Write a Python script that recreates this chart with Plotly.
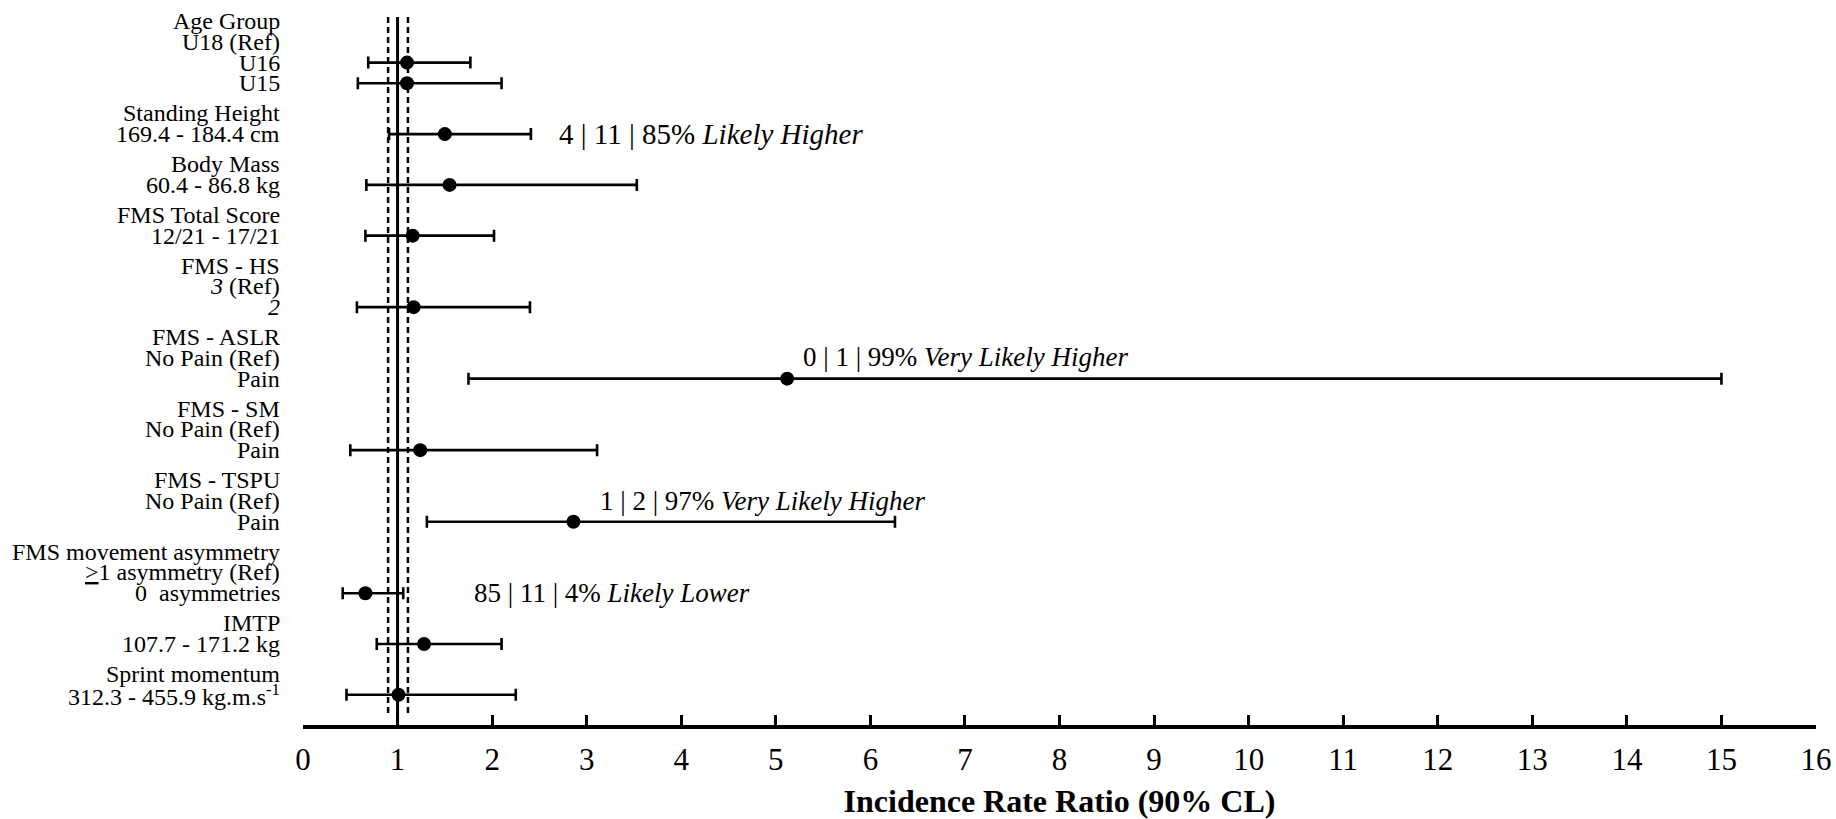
import plotly.graph_objects as go

# ---- data -------------------------------------------------------------
group_titles = [
    "Age Group", "Standing Height", "Body Mass", "FMS Total Score", "FMS - HS",
    "FMS - ASLR", "FMS - SM", "FMS - TSPU", "FMS movement asymmetry", "IMTP",
    "Sprint momentum",
]
group_levels = [
    ["U18 (Ref)", "U16", "U15"],
    ["169.4 - 184.4 cm"],
    ["60.4 - 86.8 kg"],
    ["12/21 - 17/21"],
    ["<i>3</i> (Ref)", "<i>2</i>"],
    ["No Pain (Ref)", "Pain"],
    ["No Pain (Ref)", "Pain"],
    ["No Pain (Ref)", "Pain"],
    ["<u>&gt;</u>1 asymmetry (Ref)", "0&nbsp; asymmetries"],
    ["107.7 - 171.2 kg"],
    ["312.3 - 455.9 kg.m.s<sup>-1</sup>"],
]
# incidence rate ratios (90% CL) for every non-reference level, top to bottom
irr = [1.10, 1.10, 1.50, 1.55, 1.16, 1.17, 5.12, 1.24, 2.86, 0.66, 1.28, 1.01]
cl_low = [0.69, 0.58, 0.91, 0.67, 0.66, 0.57, 1.75, 0.50, 1.31, 0.42, 0.78, 0.46]
cl_high = [1.77, 2.10, 2.41, 3.53, 2.02, 2.40, 15.0, 3.11, 6.26, 1.06, 2.10, 2.25]

# magnitude-based inference statements: index into irr, text
inference_row = [2, 6, 8, 9]
inference_text = [
    "4 | 11 | 85% <i>Likely Higher</i>",
    "0 | 1 | 99% <i>Very Likely Higher</i>",
    "1 | 2 | 97% <i>Very Likely Higher</i>",
    "85 | 11 | 4% <i>Likely Lower</i>",
]

# smallest worthwhile change thresholds around IRR = 1
swc_low, swc_high = 0.90, 1.11
x_ticks = list(range(0, 17))

# ---- layout of label lines ---------------------------------------------
LINE_STEP = 1.0
GROUP_GAP = 1.45
FONT = "Liberation Serif, Times New Roman, serif"

label_lines = []      # (y, text)
estimate_y = []
y = 0.0
for gi, (title, levels) in enumerate(zip(group_titles, group_levels)):
    if gi > 0:
        y += GROUP_GAP
    label_lines.append((y, title))
    for lv in levels:
        y += LINE_STEP
        label_lines.append((y, lv))
        if "(Ref)" not in lv:
            estimate_y.append(y)
last_y = y
y_bottom = last_y + 1.46
y_top = -1.02

# text placement for inference statements: (x start, vertical offset in lines, font size)
inference_place = [(2.69, 0.0, 29), (5.27, -1.05, 27), (3.12, -1.02, 27), (1.79, 0.0, 27)]

fig = go.Figure()

# reference lines: IRR = 1 and the SWC band
fig.add_shape(type="line", x0=1, x1=1, y0=-0.2, y1=y_bottom, xref="x", yref="y",
              line=dict(color="black", width=3), layer="below")
for xv in (swc_low, swc_high):
    fig.add_shape(type="line", x0=xv, x1=xv, y0=-0.2, y1=y_bottom - 0.4, xref="x", yref="y",
                  line=dict(color="black", width=2.5, dash="6px,4px"), layer="below")

fig.add_trace(go.Scatter(
    x=irr, y=estimate_y, mode="markers",
    marker=dict(color="black", size=14, symbol="circle"),
    error_x=dict(type="data", symmetric=False,
                 array=[h - m for h, m in zip(cl_high, irr)],
                 arrayminus=[m - l for m, l in zip(irr, cl_low)],
                 color="black", thickness=2.6, width=6),
    showlegend=False, hoverinfo="x+y",
))

annotations = []
for ly, txt in label_lines:
    annotations.append(dict(
        x=0, xref="paper", xanchor="right", xshift=-21,
        y=ly, yref="y", yanchor="middle",
        text=txt, showarrow=False, align="right",
        font=dict(family=FONT, size=24, color="black"),
    ))
for ri, txt, (xs, dy, fs) in zip(inference_row, inference_text, inference_place):
    annotations.append(dict(
        x=xs, xref="x", xanchor="left",
        y=estimate_y[ri] + dy, yref="y", yanchor="middle",
        text=txt, showarrow=False,
        font=dict(family=FONT, size=fs, color="black"),
    ))

fig.update_layout(
    width=1836, height=819,
    margin=dict(l=303, r=20, t=0, b=92),
    paper_bgcolor="white", plot_bgcolor="white",
    annotations=annotations,
    font=dict(family=FONT, color="black"),
    xaxis=dict(
        range=[0, 16], tickvals=x_ticks, ticktext=[str(t) for t in x_ticks],
        showgrid=False, zeroline=False,
        showline=True, linecolor="black", linewidth=3.5,
        ticks="inside", ticklen=10, tickwidth=2.5, tickcolor="black",
        tickfont=dict(family=FONT, size=31, color="black"),
        ticklabelstandoff=4,
        title=dict(text="<b>Incidence Rate Ratio (90% CL)</b>",
                   font=dict(family=FONT, size=32, color="black"), standoff=20),
    ),
    yaxis=dict(range=[y_bottom, y_top], visible=False, showgrid=False, zeroline=False),
)

fig.write_html("out.html")
